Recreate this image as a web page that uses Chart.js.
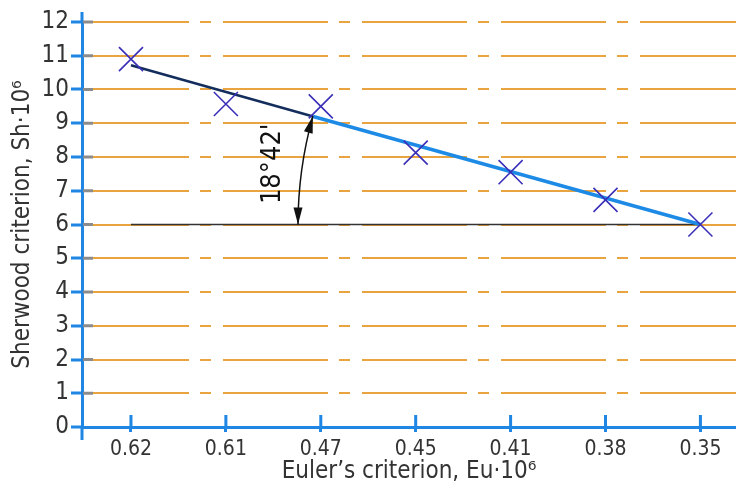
<!DOCTYPE html>
<html>
<head>
<meta charset="utf-8">
<script src="https://cdn.jsdelivr.net/npm/chart.js@4/dist/chart.umd.min.js"></script>
<style>
  html, body { margin: 0; padding: 0; background: #fff; overflow: hidden; }
  canvas { display: block; }
</style>
</head>
<body>
<canvas id="sherwoodChart" width="736" height="490" style="width:736px;height:490px"></canvas>
<script>
/* ================= Data ================= */
const eulerLabels = ["0.62", "0.61", "0.47", "0.45", "0.41", "0.38", "0.35"];
const sherwoodValues = [10.9, 9.57, 9.5, 8.13, 7.55, 6.73, 6.0];
const yTicks = [0, 1, 2, 3, 4, 5, 6, 7, 8, 9, 10, 11, 12];
// fitted line, split in a dark and a blue part (x = category index)
const fitDarkX = [0, 1.92];
const fitDarkY = [10.72, 9.2];
const fitBlueX = [1.92, 6];
const fitBlueY = [9.2, 6.0];
// horizontal reference line at Sh = 6
const baseX = [0, 6];
const baseY = [6, 6];
const angleText = "18°42'";
const angleArcStart = 1.76;

const FONT = '"DejaVu Sans Condensed", "DejaVu Sans", sans-serif';
const AXIS_BLUE = "#1f86e3";
const ORANGE = "#e9a43f";

const toPoints = (xs, ys) => xs.map((x, i) => ({ x: x, y: ys[i] }));

/* ================= Extras drawn with the scales ================= */
const drawingExtras = {
  id: "drawingExtras",
  afterDraw(chart) {
    const { ctx, chartArea, scales } = chart;
    const xs = scales.x, ys = scales.y;
    const y0 = ys.getPixelForValue(0);
    ctx.save();

    // axis extensions
    ctx.strokeStyle = AXIS_BLUE;
    ctx.lineWidth = 3;
    ctx.beginPath();
    ctx.moveTo(chartArea.left, chartArea.top - 10);
    ctx.lineTo(chartArea.left, chartArea.top);
    ctx.moveTo(chartArea.left, y0);
    ctx.lineTo(chartArea.left, y0 + 13);
    ctx.stroke();

    // x tick marks inside the plot
    ctx.beginPath();
    eulerLabels.forEach((_, i) => {
      const px = xs.getPixelForValue(i);
      ctx.moveTo(px, y0 - 12);
      ctx.lineTo(px, y0);
    });
    ctx.stroke();

    // grey inner part of the y ticks
    ctx.strokeStyle = "#8c8c8c";
    ctx.beginPath();
    yTicks.forEach((v) => {
      if (v === 0) return;
      const py = ys.getPixelForValue(v);
      ctx.moveTo(chartArea.left + 1, py);
      ctx.lineTo(chartArea.left + 11, py);
    });
    ctx.stroke();

    // angle arc with arrows
    const cx = xs.getPixelForValue(baseX[1]);
    const cy = ys.getPixelForValue(baseY[1]);
    const r = cx - xs.getPixelForValue(angleArcStart);
    const p1x = xs.getPixelForValue(fitDarkX[0]);
    const p1y = ys.getPixelForValue(fitDarkY[0]);
    const phi = Math.atan2(cy - p1y, cx - p1x);
    ctx.strokeStyle = "#111";
    ctx.fillStyle = "#111";
    ctx.lineWidth = 1.5;
    ctx.beginPath();
    ctx.arc(cx, cy, r, Math.PI, Math.PI + phi);
    ctx.stroke();

    const arrow = (a, dir) => {
      const tx = cx + r * Math.cos(a), ty = cy + r * Math.sin(a);
      const dx = -Math.sin(a) * dir, dy = Math.cos(a) * dir;
      const len = 17, w = 4.5;
      const bx = tx - dx * len, by = ty - dy * len;
      ctx.beginPath();
      ctx.moveTo(tx, ty);
      ctx.lineTo(bx - dy * w, by + dx * w);
      ctx.lineTo(bx + dy * w, by - dx * w);
      ctx.closePath();
      ctx.fill();
    };
    arrow(Math.PI, -1);
    arrow(Math.PI + phi, 1);

    const mid = Math.PI + phi / 2;
    const mx = cx + r * Math.cos(mid), my = cy + r * Math.sin(mid);
    ctx.translate(mx - 29, my - 6);
    ctx.rotate(-Math.PI / 2);
    ctx.font = "27px " + FONT;
    ctx.textAlign = "center";
    ctx.textBaseline = "middle";
    ctx.fillText(angleText, 0, 0);
    ctx.restore();
  },
};

/* ================= Chart ================= */
const ctx = document.getElementById("sherwoodChart").getContext("2d");
window.sherwoodChart = new Chart(ctx, {
  type: "scatter",
  data: {
    datasets: [
      {
        label: "Sh",
        data: toPoints(eulerLabels.map((_, i) => i), sherwoodValues),
        pointStyle: "crossRot",
        pointRadius: 17,
        pointBorderWidth: 1.6,
        borderColor: "#3a2fb8",
        backgroundColor: "#3a2fb8",
        showLine: false,
      },
      {
        label: "fit dark",
        data: toPoints(fitDarkX, fitDarkY),
        showLine: true,
        borderColor: "#132d5c",
        borderWidth: 2.5,
        pointRadius: 0,
      },
      {
        label: "fit blue",
        data: toPoints(fitBlueX, fitBlueY),
        showLine: true,
        borderColor: "#1d8be6",
        borderWidth: 3.5,
        pointRadius: 0,
      },
      {
        label: "base",
        data: toPoints(baseX, baseY),
        showLine: true,
        borderColor: "#333",
        borderWidth: 1.5,
        pointRadius: 0,
      },
    ],
  },
  options: {
    responsive: false,
    animation: false,
    layout: { autoPadding: false, padding: { top: 22, right: 0, left: 0, bottom: 0 } },
    plugins: { legend: { display: false }, tooltip: { enabled: false } },
    scales: {
      x: {
        type: "linear",
        min: -0.516,
        max: 6.375,
        afterBuildTicks: (s) => {
          s.ticks = eulerLabels.map((_, i) => ({ value: i }));
        },
        afterFit: (s) => {
          s.height = 63;
        },
        ticks: {
          callback: (v) => eulerLabels[v],
          color: "#333",
          font: { family: FONT, size: 21 },
          padding: 5,
          maxRotation: 0,
        },
        grid: {
          drawOnChartArea: false,
          tickLength: 5,
          tickColor: AXIS_BLUE,
          tickWidth: 3,
        },
        border: { color: AXIS_BLUE, width: 3 },
        title: {
          display: true,
          text: "Euler’s criterion, Eu·10⁶",
          color: "#333",
          font: { family: FONT, size: 24 },
          padding: { top: 0 },
        },
      },
      y: {
        min: 0,
        max: 12,
        afterBuildTicks: (s) => {
          s.ticks = yTicks.map((v) => ({ value: v }));
        },
        afterFit: (s) => { s.width = 82; },
        ticks: {
          color: "#333",
          font: { family: FONT, size: 24 },
          padding: 2,
        },
        grid: {
          color: (c) => (c.tick && c.tick.value === 0 ? "rgba(0,0,0,0)" : ORANGE),
          lineWidth: 2,
          tickLength: 11,
          tickColor: AXIS_BLUE,
          tickWidth: 3,
        },
        border: { color: AXIS_BLUE, width: 3, dash: [105, 11, 11, 12] },
        title: {
          display: true,
          text: "Sherwood criterion, Sh·10⁶",
          color: "#333",
          font: { family: FONT, size: 24 },
          padding: { top: 8, bottom: 0 },
        },
      },
    },
  },
  plugins: [drawingExtras],
});
</script>
</body>
</html>
